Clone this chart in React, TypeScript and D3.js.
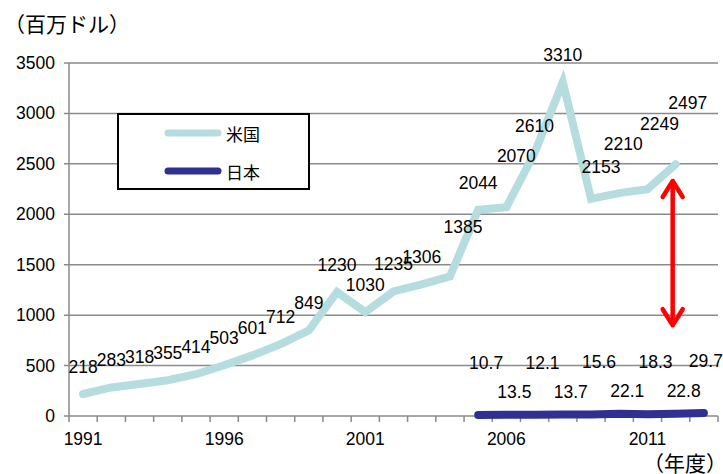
import React from 'react';
import * as d3 from 'd3';

// 米国 1991-2012, 日本 2005-2013 (百万ドル)
const years = d3.range(1991, 2014).map(String);
const usYears = d3.range(1991, 2013).map(String);
const usValues = [218, 283, 318, 355, 414, 503, 601, 712, 849, 1230, 1030, 1235, 1306, 1385, 2044, 2070, 2610, 3310, 2153, 2210, 2249, 2497];
const jpYears = d3.range(2005, 2014).map(String);
const jpValues = [10.7, 13.5, 12.1, 13.7, 15.6, 22.1, 18.3, 22.8, 29.7];
const yTicks = [0, 500, 1000, 1500, 2000, 2500, 3000, 3500];
const xTickLabels = ['1991', '1996', '2001', '2006', '2011'];
const gapRange = [900, 2330]; // red double arrow, in value units

// label nudges (excel had these dragged by hand)
const usLabelNudge: Record<string, [number, number]> = {
  '2004': [13, -22], '2006': [10, -24], '2009': [10, -5], '2010': [4, -22], '2011': [12, -38], '2012': [12, -34],
};

const W = 723;
const H = 474;
const FONT = '"Liberation Sans", Arial, "Noto Sans CJK JP", sans-serif';
const JP_FONT = '"Noto Sans CJK JP", sans-serif';

const App = () => {
  const x = d3.scaleBand().domain(years).range([69, 718]);
  const y = d3.scaleLinear().domain([0, 3500]).range([416, 63]);
  const cx = (yr: string) => (x(yr) ?? 0) + x.bandwidth() / 2;

  const line = d3.line<[string, number]>().x(d => cx(d[0])).y(d => y(d[1]));
  const usPts = usYears.map((yr, i) => [yr, usValues[i]] as [string, number]);
  const jpPts = jpYears.map((yr, i) => [yr, jpValues[i]] as [string, number]);

  const [x0, x1] = x.range();
  const bandEdges = years.map(yr => x(yr) ?? 0).concat([x1]);

  const arrowX = cx('2012') - 3;
  const aTop = y(gapRange[1]);
  const aBot = y(gapRange[0]);

  return (
    <svg width={W} height={H} style={{ position: 'absolute', left: 0, top: 0, background: '#fff' }}>
      <text x={4} y={23} fontFamily={JP_FONT} fontSize={21} dominantBaseline="central" fill="#000">（百万ドル）</text>

      {yTicks.map(t => (
        <g key={t}>
          <line x1={x0 - 5} x2={x1} y1={y(t)} y2={y(t)} stroke="#8a8a8a" strokeWidth={1.5} />
          <text x={55} y={y(t)} textAnchor="end" dominantBaseline="central" fontFamily={FONT} fontSize={17.5}>{t}</text>
        </g>
      ))}
      <line x1={x0} x2={x0} y1={y(3500)} y2={y(0)} stroke="#8a8a8a" strokeWidth={1.5} />
      {bandEdges.map((e, i) => (
        <line key={i} x1={e} x2={e} y1={y(0)} y2={y(0) + 6} stroke="#8a8a8a" strokeWidth={1.5} />
      ))}
      {xTickLabels.map(l => (
        <text key={l} x={cx(l)} y={439} textAnchor="middle" dominantBaseline="central" fontFamily={FONT} fontSize={17.5}>{l}</text>
      ))}
      <text x={643} y={462} fontFamily={JP_FONT} fontSize={21} dominantBaseline="central">（年度）</text>

      <path d={line(usPts) ?? ''} fill="none" stroke="#b5dcdf" strokeWidth={8} strokeLinecap="round" />
      <path d={line(jpPts) ?? ''} fill="none" stroke="#2e3192" strokeWidth={8} strokeLinecap="round" />

      {usPts.map(([yr, v]) => {
        const [dx, dy] = usLabelNudge[yr] ?? [0, 0];
        return (
          <text key={yr} x={cx(yr) + dx} y={y(v) - 27 + dy} textAnchor="middle" dominantBaseline="central" fontFamily={FONT} fontSize={17.5}>{v}</text>
        );
      })}
      {jpPts.map(([yr, v], i) => (
        <text key={yr} x={cx(yr) + (yr === '2013' ? 2 : 8)} y={y(v) - (i % 2 === 0 ? 52 : 23)} textAnchor="middle" dominantBaseline="central" fontFamily={FONT} fontSize={17.5}>{v}</text>
      ))}

      <g stroke="#ff0000" strokeWidth={4.5} fill="none" strokeLinecap="round" strokeLinejoin="round">
        <line x1={arrowX} x2={arrowX} y1={aTop + 2} y2={aBot - 2} />
        <polyline points={`${arrowX - 10},${aTop + 16} ${arrowX},${aTop} ${arrowX + 10},${aTop + 16}`} />
        <polyline points={`${arrowX - 10},${aBot - 16} ${arrowX},${aBot} ${arrowX + 10},${aBot - 16}`} />
      </g>

      <rect x={118} y={114} width={191} height={75} fill="#fff" stroke="#000" strokeWidth={2} />
      <line x1={168} x2={218} y1={133} y2={133} stroke="#b5dcdf" strokeWidth={7} strokeLinecap="round" />
      <text x={226} y={133} dominantBaseline="central" fontFamily={JP_FONT} fontSize={17}>米国</text>
      <line x1={168} x2={218} y1={171} y2={171} stroke="#2e3192" strokeWidth={7} strokeLinecap="round" />
      <text x={226} y={171} dominantBaseline="central" fontFamily={JP_FONT} fontSize={17}>日本</text>
    </svg>
  );
};

export default App;
